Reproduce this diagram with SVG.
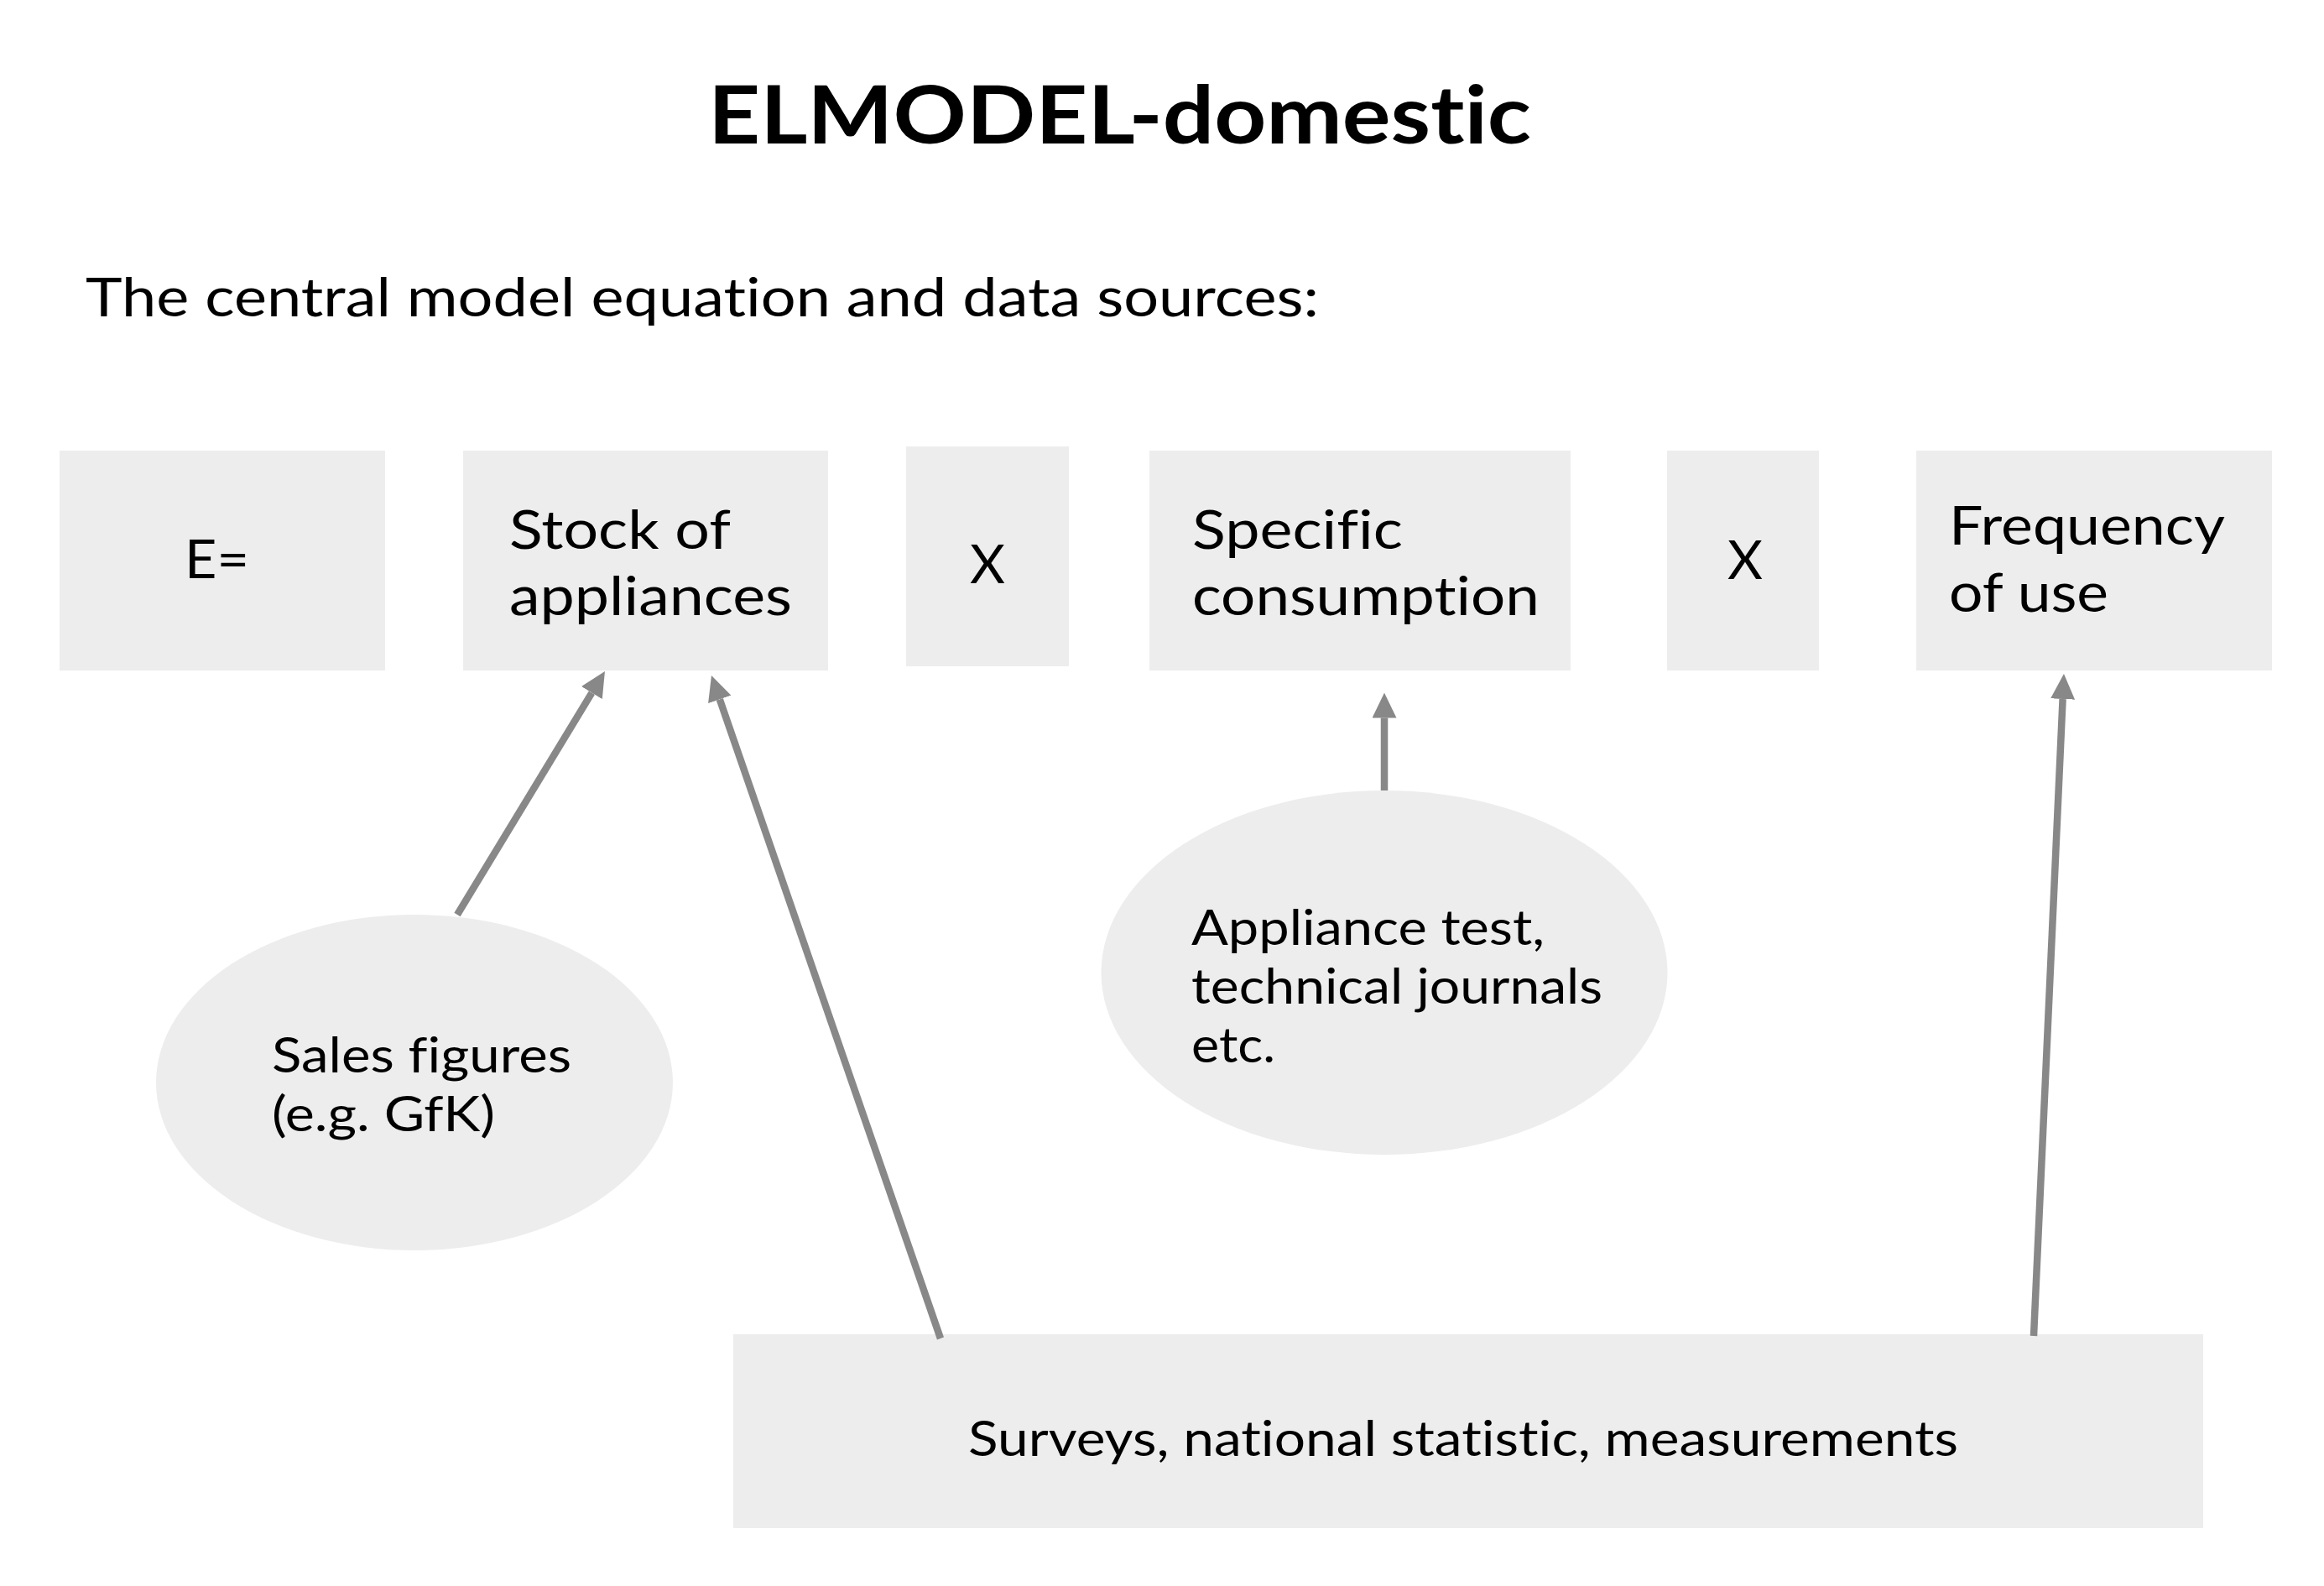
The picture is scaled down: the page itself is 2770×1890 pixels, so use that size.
<svg xmlns="http://www.w3.org/2000/svg" width="2770" height="1890" viewBox="0 0 2770 1890">
<style>
.box{fill:#ededed}
.t{font-family:Lato,"Liberation Sans","DejaVu Sans",sans-serif;fill:#000;font-variant-ligatures:none}
.big{font-size:64px}
.sm{font-size:58px}
.conn{stroke:#888888;stroke-width:8.5;fill:none}
</style>
<defs>
<marker id="ah" markerUnits="userSpaceOnUse" markerWidth="30" markerHeight="29" refX="0" refY="14.5" orient="auto" viewBox="0 0 30 29">
<path d="M0,0 L30,14.5 L0,29 z" fill="#888888"/>
</marker>
</defs>
<rect width="2770" height="1890" fill="#ffffff"/>
<text class="t" x="844" y="171" font-size="96" font-weight="bold" textLength="981" lengthAdjust="spacingAndGlyphs">ELMODEL-domestic</text>
<text class="t big" x="102" y="377" textLength="1470" lengthAdjust="spacingAndGlyphs">The central model equation and data sources:</text>

<g id="node-e">
<rect class="box" x="71" y="537" width="388" height="262"/>
<text class="t big" x="220" y="689" textLength="77" lengthAdjust="spacingAndGlyphs">E=</text>
</g>
<g id="node-stock">
<rect class="box" x="552" y="537" width="435" height="262"/>
<text class="t big" x="607" y="654" textLength="264" lengthAdjust="spacingAndGlyphs">Stock of</text>
<text class="t big" x="607" y="733" textLength="337" lengthAdjust="spacingAndGlyphs">appliances</text>
</g>
<g id="node-x1">
<rect class="box" x="1080" y="532" width="194" height="262"/>
<text class="t big" x="1156" y="695" textLength="42" lengthAdjust="spacingAndGlyphs">X</text>
</g>
<g id="node-specific">
<rect class="box" x="1370" y="537" width="502" height="262"/>
<text class="t big" x="1421" y="654" textLength="251" lengthAdjust="spacingAndGlyphs">Specific</text>
<text class="t big" x="1421" y="733" textLength="414" lengthAdjust="spacingAndGlyphs">consumption</text>
</g>
<g id="node-x2">
<rect class="box" x="1987" y="537" width="181" height="262"/>
<text class="t big" x="2059" y="690" textLength="42" lengthAdjust="spacingAndGlyphs">X</text>
</g>
<g id="node-frequency">
<rect class="box" x="2284" y="537" width="424" height="262"/>
<text class="t big" x="2323" y="649" textLength="329" lengthAdjust="spacingAndGlyphs">Frequency</text>
<text class="t big" x="2323" y="729" textLength="190" lengthAdjust="spacingAndGlyphs">of use</text>
</g>
<g id="node-sales">
<ellipse class="box" cx="494" cy="1290" rx="308" ry="200"/>
<text class="t sm" x="324" y="1278" textLength="357" lengthAdjust="spacingAndGlyphs">Sales figures</text>
<text class="t sm" x="324" y="1348" textLength="266" lengthAdjust="spacingAndGlyphs">(e.g. GfK)</text>
</g>
<g id="node-appliance">
<ellipse class="box" cx="1650" cy="1159" rx="337.5" ry="217"/>
<text class="t sm" x="1420" y="1126" textLength="421" lengthAdjust="spacingAndGlyphs">Appliance test,</text>
<text class="t sm" x="1420" y="1196" textLength="490" lengthAdjust="spacingAndGlyphs">technical journals</text>
<text class="t sm" x="1420" y="1266" textLength="100" lengthAdjust="spacingAndGlyphs">etc.</text>
</g>
<g id="node-surveys">
<rect class="box" x="874" y="1590" width="1752" height="231"/>
<text class="t sm" x="1154" y="1735" textLength="1180" lengthAdjust="spacingAndGlyphs">Surveys, national statistic, measurements</text>
</g>

<g id="connectors">
<line class="conn" x1="545" y1="1090" x2="705.4" y2="825.6" marker-end="url(#ah)"/>
<line class="conn" x1="1121" y1="1595" x2="857.8" y2="833.4" marker-end="url(#ah)"/>
<line class="conn" x1="1650" y1="942" x2="1650" y2="855.6" marker-end="url(#ah)"/>
<line class="conn" x1="2424" y1="1592" x2="2458.6" y2="833" marker-end="url(#ah)"/>
</g>
</svg>
